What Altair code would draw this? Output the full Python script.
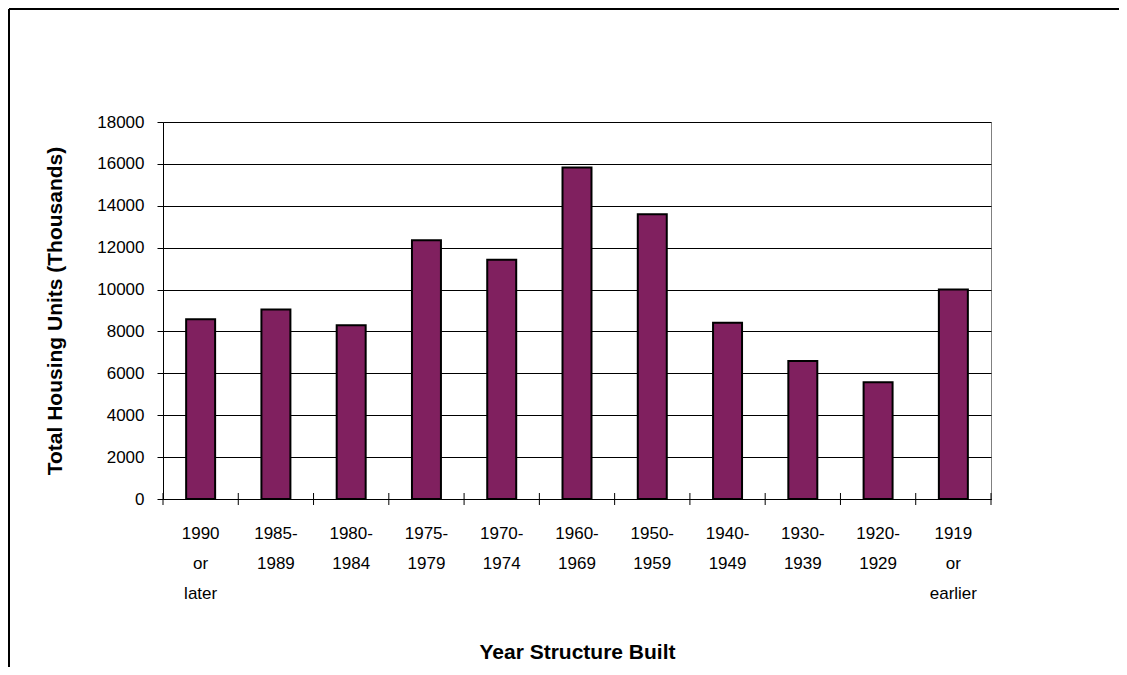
import altair as alt
import pandas as pd

categories = ["1990\nor\nlater", "1985-\n1989", "1980-\n1984", "1975-\n1979", "1970-\n1974",
              "1960-\n1969", "1950-\n1959", "1940-\n1949", "1930-\n1939", "1920-\n1929",
              "1919\nor\nearlier"]
values = [8580, 9050, 8300, 12350, 11420, 15830, 13590, 8420, 6590, 5570, 10000]
y_ticks = [0, 2000, 4000, 6000, 8000, 10000, 12000, 14000, 16000, 18000]

df = pd.DataFrame({"cat": categories, "val": values})
# category boundaries (between bands) for the tick marks that cross the axis
bounds = pd.DataFrame({"b": list(range(len(categories) + 1))})

W, H = 828, 377
PL, PT, PR, PB = 155, 114, 128, 168
FONT = "Liberation Sans"

xscale = alt.Scale(domain=categories, paddingInner=0.615, paddingOuter=0.3075)

bars = alt.Chart(df).mark_bar(color="#80205F", stroke="#000000", strokeWidth=2).encode(
    x=alt.X("cat:N", sort=None, scale=xscale,
            axis=alt.Axis(title="Year Structure Built", labelAngle=0,
                          labelExpr="split(datum.label, '\\n')",
                          labelFontSize=17, labelLineHeight=30, labelPadding=26,
                          ticks=False,
                          domainColor="#000000", labelColor="#000000",
                          titleFontSize=21, titleFontWeight="bold", titleColor="#000000",
                          titleX=W / 2, titleY=153, titleBaseline="middle", titleAlign="center")),
    y=alt.Y("val:Q", scale=alt.Scale(domain=[0, 18000], nice=False),
            axis=alt.Axis(title="Total Housing Units (Thousands)", values=y_ticks, format="d",
                          labelFontSize=17, labelPadding=13, tickSize=6,
                          tickColor="#000000", domainColor="#000000", labelColor="#000000",
                          grid=True, gridColor="#000000", gridWidth=1, gridOpacity=1,
                          titleFontSize=21, titleFontWeight="bold", titleColor="#000000",
                          titleX=-108, titleY=H / 2, titleAngle=-90,
                          titleBaseline="middle", titleAlign="center")),
)

band_ticks = alt.Chart(bounds).mark_rule(color="#000000", strokeWidth=1).encode(
    x=alt.X("b:Q", scale=alt.Scale(domain=[0, len(categories)], nice=False, zero=False),
            axis=None),
    y=alt.value(H - 6),
    y2=alt.value(H + 6),
)

one = pd.DataFrame({"k": [0]})
left_border = alt.Chart(one).mark_rule(color="#000000", strokeWidth=2).encode(
    x=alt.value(-PL + 1), y=alt.value(-PT + 1), y2=alt.value(H + PB)
)
top_border = alt.Chart(one).mark_rule(color="#000000", strokeWidth=2).encode(
    x=alt.value(-PL + 1), x2=alt.value(W + PR), y=alt.value(-PT + 1)
)

chart = alt.layer(bars, band_ticks, left_border, top_border).resolve_scale(
    x="independent"
).properties(
    width=W, height=H,
    autosize=alt.AutoSizeParams(type="none"),
    padding={"left": PL, "top": PT, "right": PR, "bottom": PB},
).configure(font=FONT, background="#ffffff").configure_view(
    stroke="#808080", strokeWidth=1
)

chart.save("out.html", embed_options={"renderer": "svg", "actions": False})
